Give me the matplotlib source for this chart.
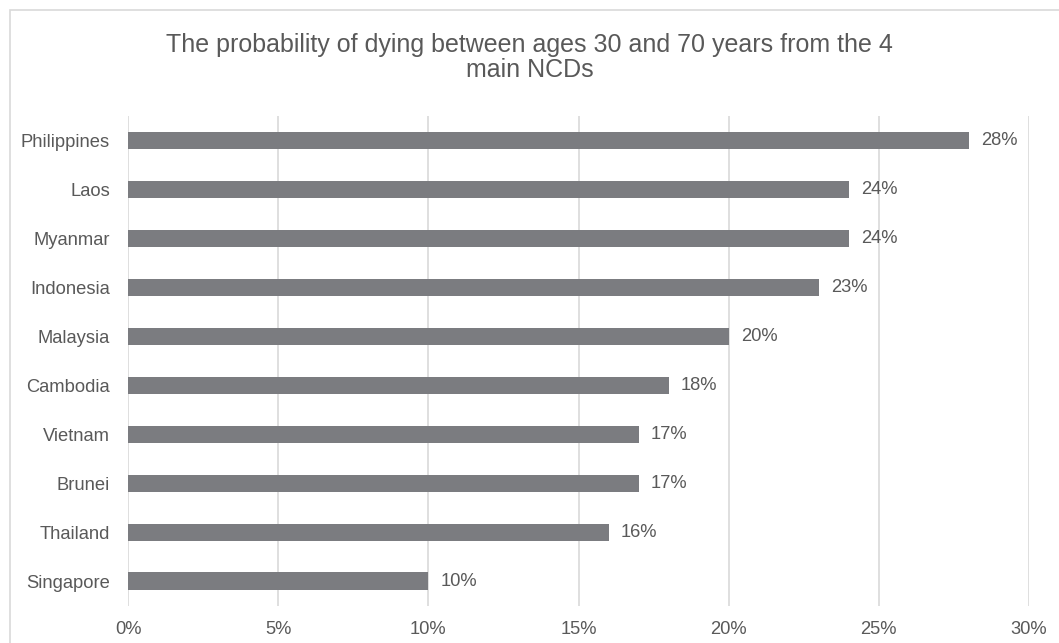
import matplotlib
matplotlib.use("Agg")
import matplotlib.pyplot as plt
from matplotlib.patches import Rectangle

countries = ["Philippines", "Laos", "Myanmar", "Indonesia", "Malaysia",
             "Cambodia", "Vietnam", "Brunei", "Thailand", "Singapore"]
values = [28, 24, 24, 23, 20, 18, 17, 17, 16, 10]
xticks = [0, 5, 10, 15, 20, 25, 30]

plt.rcParams['font.family'] = ['Liberation Sans', 'DejaVu Sans']
text_color = "#595959"
bar_color = "#7b7c80"

fig = plt.figure(figsize=(10.59, 6.43), dpi=100)
# light chart-area border (right and bottom edges fall outside the image)
fig.patches.append(Rectangle((10 / 1059, -0.05), 1.2, 1 - 10 / 643 + 0.05,
                             transform=fig.transFigure, fill=False,
                             edgecolor="#d9d9d9", linewidth=1.2))
ax = fig.add_axes([128 / 1059, 1 - 605.5 / 643, (1029 - 128) / 1059, (605.5 - 116) / 643])

y = list(range(len(countries)))
ax.barh(y, values, height=0.35, color=bar_color, zorder=3)
for yi, v in zip(y, values):
    ax.text(v + 0.4, yi, f"{v}%", va="center", ha="left", fontsize=13.2, color=text_color)

ax.set_ylim(len(countries) - 0.5, -0.5)
ax.set_yticks(y)
ax.set_yticklabels(countries, fontsize=13.2, color=text_color)
ax.set_xlim(0, 30)
ax.set_xticks(xticks)
ax.set_xticklabels([f"{t}%" for t in xticks], fontsize=13.2, color=text_color)
ax.grid(axis="x", color="#d9d9d9", linewidth=1.2, zorder=0)
for s in ax.spines.values():
    s.set_visible(False)
ax.tick_params(axis="y", length=0, pad=13)
ax.tick_params(axis="x", length=0, pad=11)

fig.text(0.5, 1 - 52 / 643, "The probability of dying between ages 30 and 70 years from the 4",
         ha="center", va="baseline", fontsize=18, color=text_color)
fig.text(0.5, 1 - 77 / 643, "main NCDs",
         ha="center", va="baseline", fontsize=18, color=text_color)

fig.savefig("out.png", dpi=100)
